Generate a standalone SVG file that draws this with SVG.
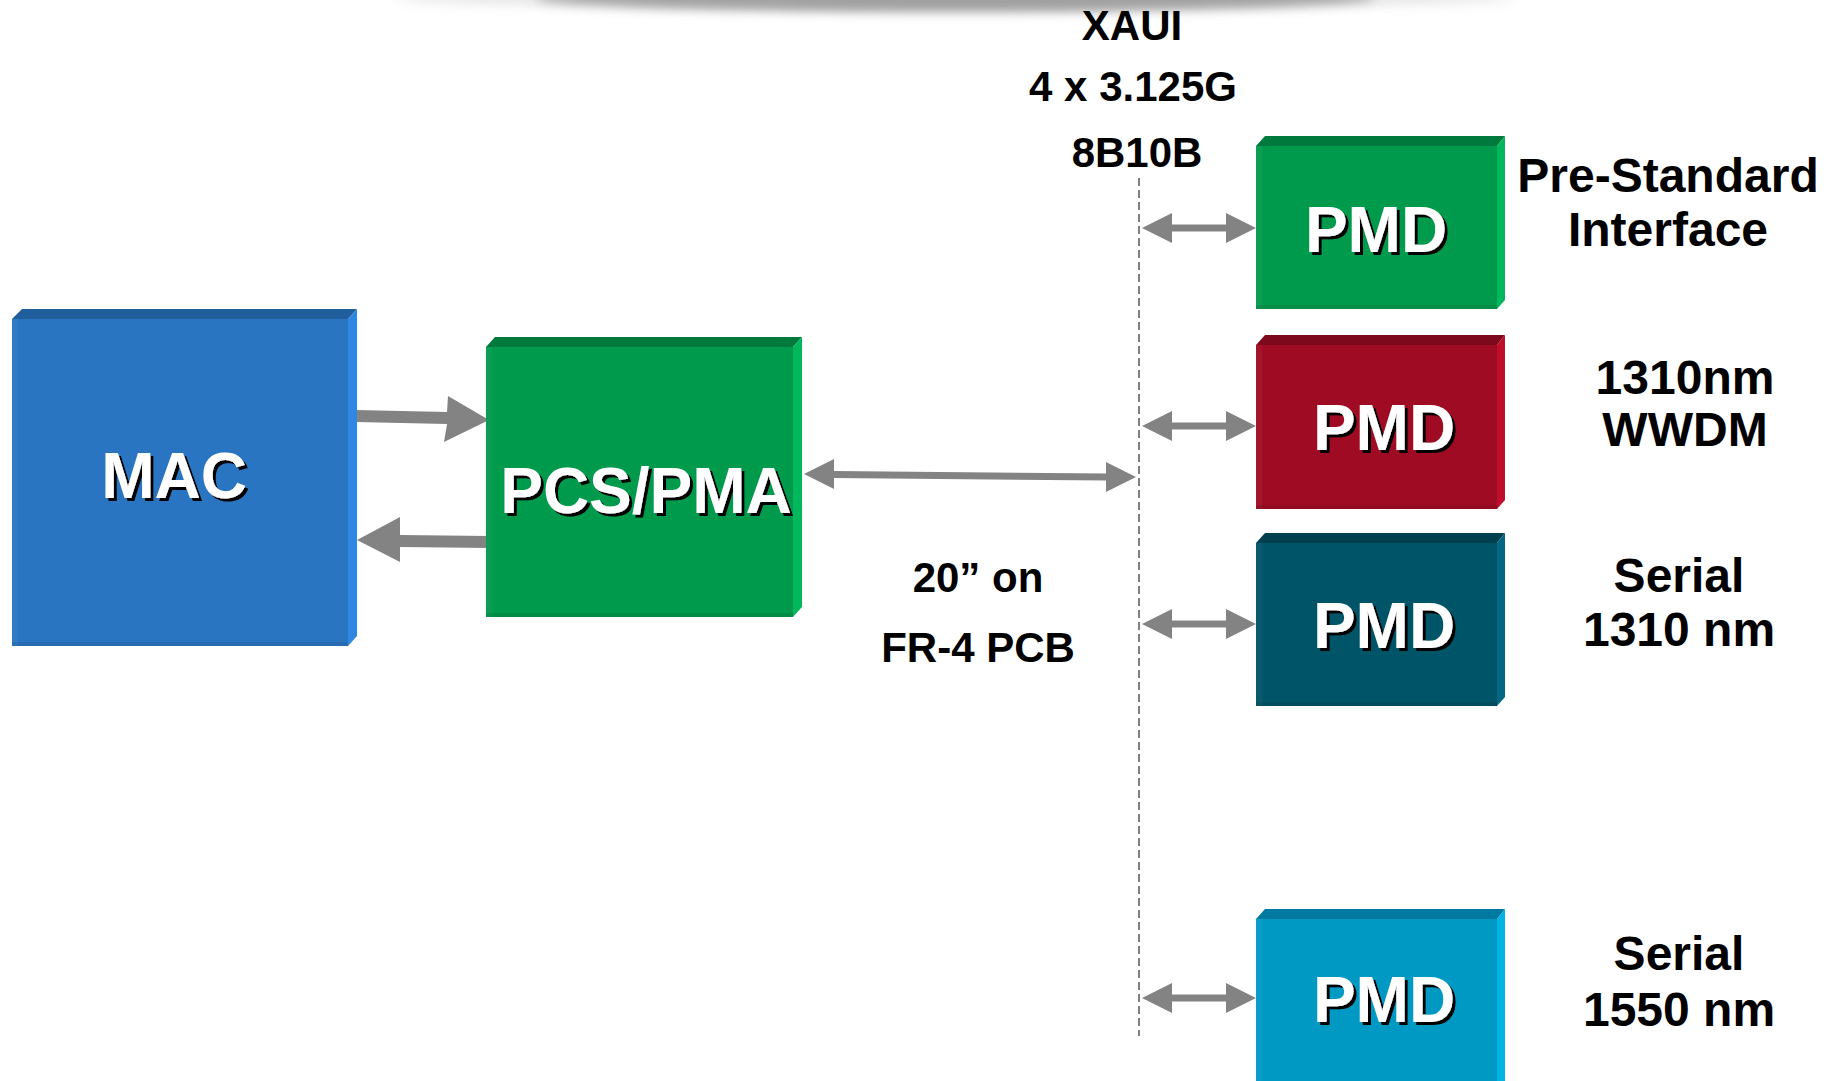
<svg xmlns="http://www.w3.org/2000/svg" width="1837" height="1081" viewBox="0 0 1837 1081">
<defs>
<filter id="sh" x="-5%" y="-5%" width="115%" height="120%">
<feOffset in="SourceAlpha" dx="3" dy="3" result="o"/>
<feMerge><feMergeNode in="o"/><feMergeNode in="SourceGraphic"/></feMerge>
</filter>
<filter id="blur" x="-20%" y="-200%" width="140%" height="500%">
<feGaussianBlur stdDeviation="6"/>
</filter>
</defs>
<style>
.t{font-family:"Liberation Sans",Arial,Helvetica,sans-serif;font-weight:bold;text-anchor:middle;fill:#000}
.bx{font-size:64px;fill:#fff;filter:url(#sh)}
.mid{font-size:42px}
.rt{font-size:48px}
.arr{fill:#838383}
.dash{stroke:#808080;stroke-width:2;stroke-dasharray:8 4;fill:none}
.blueF{fill:#2A75C2}.blueT{fill:#215E9C}.blueS{fill:#2E88E2}
.grnF{fill:#009A4D}.grnT{fill:#007A3C}.grnS{fill:#00B85B}
.redF{fill:#9E0B23}.redT{fill:#7C0A1C}.redS{fill:#BE0E2B}
.tealF{fill:#005468}.tealT{fill:#00404F}.tealS{fill:#006882}
.cyanF{fill:#0099C4}.cyanT{fill:#0079A0}.cyanS{fill:#00B3E3}
.edgeD{fill:#000;opacity:0.08}
.edgeL{fill:#fff;opacity:0.04}
</style>

<g id="top-shadow">
<ellipse cx="955" cy="-4" rx="420" ry="14" fill="#7c7c7c" filter="url(#blur)"/>
<ellipse cx="955" cy="-2" rx="560" ry="10" fill="#c8c8c8" opacity="0.5" filter="url(#blur)"/>
</g>

<g id="connectors">
<line class="dash" x1="1139" y1="178" x2="1139" y2="1036"/>
<polygon class="arr" points="356,410 447,412 448,396 489,420 444,442 447,424 356,422"/>
<polygon class="arr" points="490,536 400,535 400,517 357,540 400,562 400,547 490,548"/>
<polygon class="arr" points="804,474 834,459 834,471 1106,473.5 1106,462 1136,477 1106,492 1106,480.5 834,478 834,489"/>
<polygon class="arr" points="1142,228 1172,213 1172,224.5 1226,224.5 1226,213 1256,228 1226,243 1226,231.5 1172,231.5 1172,243"/>
<polygon class="arr" points="1142,426 1172,411 1172,422.5 1226,422.5 1226,411 1256,426 1226,441 1226,429.5 1172,429.5 1172,441"/>
<polygon class="arr" points="1142,624 1172,609 1172,620.5 1226,620.5 1226,609 1256,624 1226,639 1226,627.5 1172,627.5 1172,639"/>
<polygon class="arr" points="1142,998 1172,983 1172,994.5 1226,994.5 1226,983 1256,998 1226,1013 1226,1001.5 1172,1001.5 1172,1013"/>
</g>

<g id="mac">
<rect class="blueF" x="12" y="319" width="336" height="327"/>
<rect class="edgeL" x="12" y="319" width="6" height="327"/>
<rect class="edgeD" x="12" y="642" width="336" height="4"/>
<polygon class="blueT" points="12,319 22,309 357,309 348,319"/>
<polygon class="blueS" points="348,319 357,309 357,636 348,646"/>
<text class="t bx" x="174" y="498">MAC</text>
</g>

<g id="pcs-pma">
<rect class="grnF" x="486" y="347" width="307" height="270"/>
<rect class="edgeL" x="486" y="347" width="6" height="270"/>
<rect class="edgeD" x="486" y="613" width="307" height="4"/>
<polygon class="grnT" points="486,347 495,337 802,337 793,347"/>
<polygon class="grnS" points="793,347 802,337 802,607 793,617"/>
<text class="t bx" x="646" y="513">PCS/PMA</text>
</g>

<g id="pmd-prestd">
<rect class="grnF" x="1256" y="146" width="241" height="163"/>
<rect class="edgeL" x="1256" y="146" width="6" height="163"/>
<rect class="edgeD" x="1256" y="305" width="241" height="4"/>
<polygon class="grnT" points="1256,146 1265,136 1505,136 1497,146"/>
<polygon class="grnS" points="1497,146 1505,136 1505,300 1497,309"/>
<text class="t bx" x="1376" y="252">PMD</text>
</g>

<g id="pmd-wwdm">
<rect class="redF" x="1256" y="345" width="241" height="164"/>
<rect class="edgeL" x="1256" y="345" width="6" height="164"/>
<rect class="edgeD" x="1256" y="505" width="241" height="4"/>
<polygon class="redT" points="1256,345 1265,335 1505,335 1497,345"/>
<polygon class="redS" points="1497,345 1505,335 1505,500 1497,509"/>
<text class="t bx" x="1384" y="450">PMD</text>
</g>

<g id="pmd-1310">
<rect class="tealF" x="1256" y="543" width="241" height="163"/>
<rect class="edgeL" x="1256" y="543" width="6" height="163"/>
<rect class="edgeD" x="1256" y="702" width="241" height="4"/>
<polygon class="tealT" points="1256,543 1265,533 1505,533 1497,543"/>
<polygon class="tealS" points="1497,543 1505,533 1505,697 1497,706"/>
<text class="t bx" x="1384" y="648">PMD</text>
</g>

<g id="pmd-1550">
<rect class="cyanF" x="1256" y="919" width="241" height="170"/>
<rect class="edgeL" x="1256" y="919" width="6" height="170"/>
<polygon class="cyanT" points="1256,919 1265,909 1505,909 1497,919"/>
<polygon class="cyanS" points="1497,919 1505,909 1505,1089 1497,1089"/>
<text class="t bx" x="1384" y="1022">PMD</text>
</g>

<g id="labels">
<text class="t mid" x="1132" y="40">XAUI</text>
<text class="t mid" x="1133" y="101">4 x 3.125G</text>
<text class="t mid" x="1137" y="167">8B10B</text>
<text class="t mid" x="978" y="592">20” on</text>
<text class="t mid" x="978" y="662">FR-4 PCB</text>
<text class="t rt" x="1668" y="192">Pre-Standard</text>
<text class="t rt" x="1668" y="246">Interface</text>
<text class="t rt" x="1685" y="394">1310nm</text>
<text class="t rt" x="1685" y="446">WWDM</text>
<text class="t rt" x="1679" y="592">Serial</text>
<text class="t rt" x="1679" y="646">1310 nm</text>
<text class="t rt" x="1679" y="970">Serial</text>
<text class="t rt" x="1679" y="1026">1550 nm</text>
</g>
</svg>
